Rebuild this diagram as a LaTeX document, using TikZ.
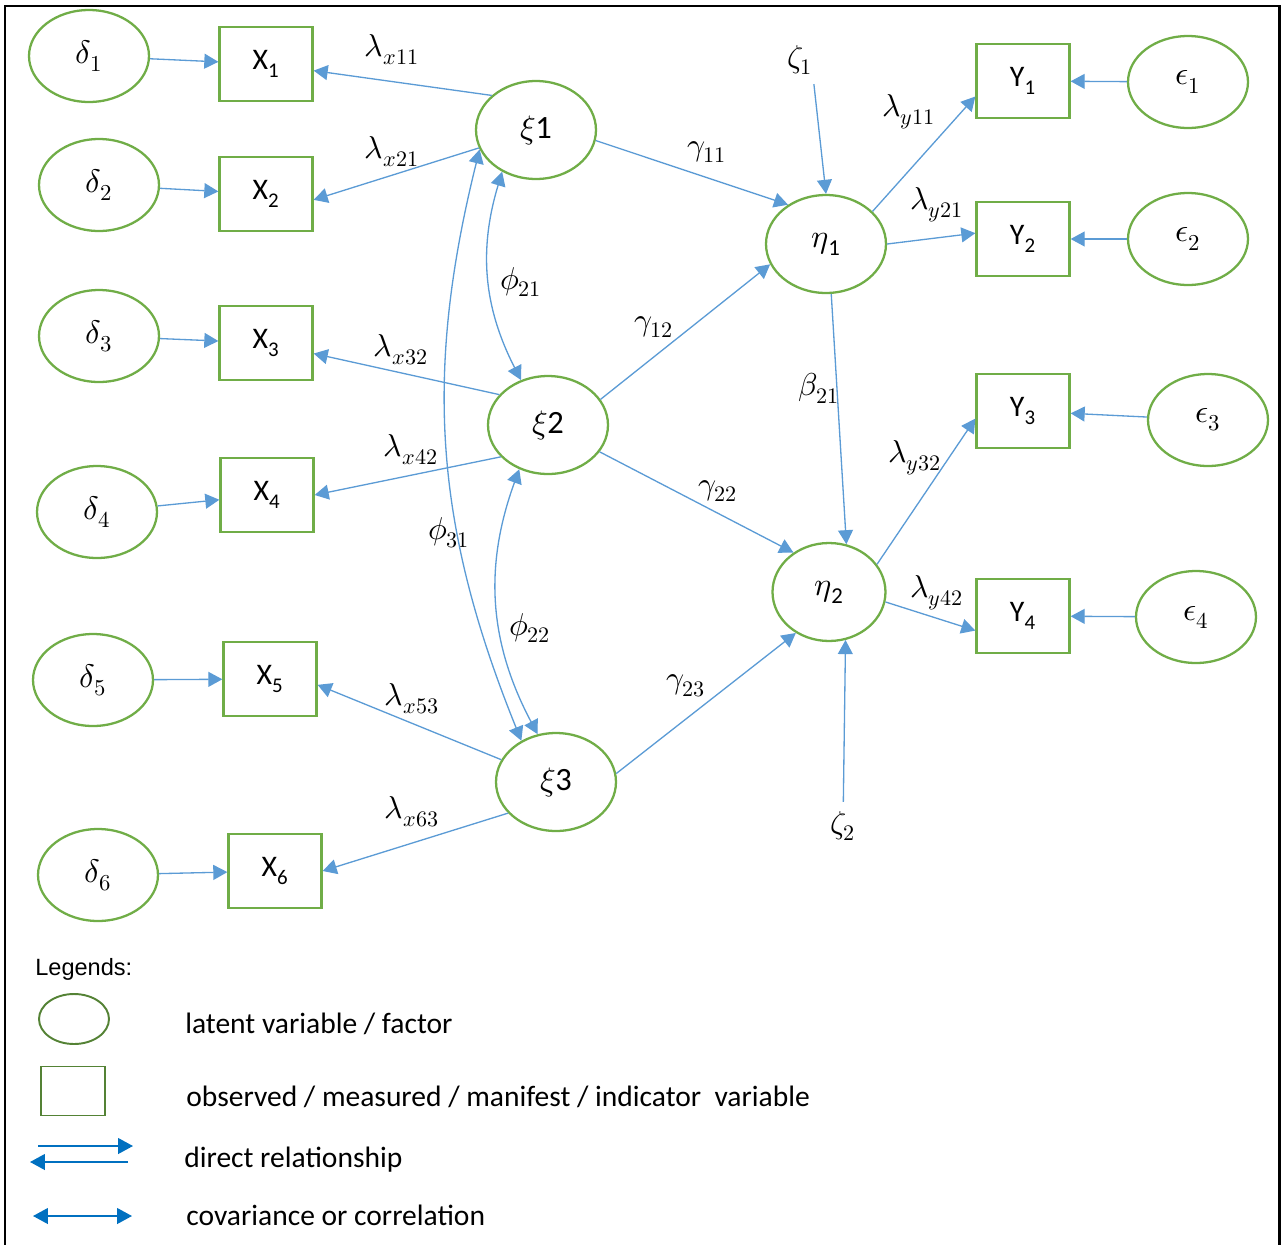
\documentclass[tikz,border=0pt]{standalone}
\usepackage{fontspec}
\usepackage{unicode-math}
\setmainfont{Carlito}
\newfontfamily\legendfont{Liberation Sans}
\usetikzlibrary{shapes.geometric, arrows.meta}
\definecolor{factorgreen}{RGB}{112,173,71}
\definecolor{keygreen}{RGB}{84,130,53}
\definecolor{pathblue}{RGB}{91,155,213}
\definecolor{keyblue}{RGB}{0,112,192}

\begin{document}
\begin{tikzpicture}[
    x=0.02cm, y=-0.02cm,
    error/.style={ellipse, draw=factorgreen, line width=1.3pt, minimum width=2.4cm, minimum height=1.84cm, inner sep=0pt, font=\fontsize{18.5}{22}\selectfont},
    factor/.style={error, minimum height=1.96cm},
    indicator/.style={draw=factorgreen, line width=1.3pt, minimum width=1.86cm, minimum height=1.48cm, inner sep=0pt, font=\fontsize{17}{20}\selectfont},
    arrow/.style={-{Triangle[length=8pt, width=8.5pt]}, draw=pathblue, line width=0.75pt},
    covar/.style={{Triangle[length=8pt, width=8.5pt]}-{Triangle[length=8pt, width=8.5pt]}, draw=pathblue, line width=0.75pt},
    coef/.style={inner sep=0pt, font=\fontsize{18}{21}\selectfont},
    keyarrow/.style={-{Triangle[length=8.5pt, width=9pt]}, draw=keyblue, line width=0.9pt},
    keytext/.style={anchor=west, inner sep=0pt, font=\fontsize{16.8}{20}\selectfont}
]
    \useasboundingbox (0,0) rectangle (1286,1245);
    \draw[line width=1.7pt] (5,1245) -- (5,6) -- (1279,6) -- (1279,1245);

    \node[error] (d1) at (89,56) {$\delta_1$};
    \node[error] (d2) at (99,185) {$\delta_2$};
    \node[error] (d3) at (99,336) {$\delta_3$};
    \node[error] (d4) at (97,512) {$\delta_4$};
    \node[error] (d5) at (93,680) {$\delta_5$};
    \node[error] (d6) at (98,875) {$\delta_6$};

    \node[indicator] (x1) at (266,64) {X\textsubscript{1}};
    \node[indicator] (x2) at (266,194) {X\textsubscript{2}};
    \node[indicator] (x3) at (266,343) {X\textsubscript{3}};
    \node[indicator] (x4) at (267,495) {X\textsubscript{4}};
    \node[indicator] (x5) at (270,679) {X\textsubscript{5}};
    \node[indicator] (x6) at (275,871) {X\textsubscript{6}};

    \node[factor] (xi1) at (536,130) {$\xi$1};
    \node[factor] (xi2) at (548,425) {$\xi$2};
    \node[factor] (xi3) at (556,782) {$\xi$3};
    \node[factor] (eta1) at (826,244) {$\eta$\textsubscript{1}};
    \node[factor, minimum width=2.26cm] (eta2) at (829,592) {$\eta$\textsubscript{2}};

    \node[indicator] (y1) at (1023,81) {Y\textsubscript{1}};
    \node[indicator] (y2) at (1023,239) {Y\textsubscript{2}};
    \node[indicator] (y3) at (1023,411) {Y\textsubscript{3}};
    \node[indicator] (y4) at (1023,616) {Y\textsubscript{4}};

    \node[error] (e1) at (1188,82) {$\epsilon_1$};
    \node[error] (e2) at (1188,239) {$\epsilon_2$};
    \node[error] (e3) at (1208,420) {$\epsilon_3$};
    \node[error] (e4) at (1196,617) {$\epsilon_4$};

    \node[coef, inner sep=5pt] (zeta1) at (800,60) {$\zeta_1$};
    \node[coef, inner sep=5pt] (zeta2) at (843,826) {$\zeta_2$};

    \node[coef] (lx11) at (392,50) {$\lambda_{x11}$};
    \node[coef] (lx21) at (392,152) {$\lambda_{x21}$};
    \node[coef] (lx32) at (401,350) {$\lambda_{x32}$};
    \node[coef] (lx42) at (411,450) {$\lambda_{x42}$};
    \node[coef] (lx53) at (412,699) {$\lambda_{x53}$};
    \node[coef] (lx63) at (412,812) {$\lambda_{x63}$};
    \node[coef] (phi21) at (521,282) {$\phi_{21}$};
    \node[coef] (phi31) at (449,533) {$\phi_{31}$};
    \node[coef] (phi22) at (530,628) {$\phi_{22}$};
    \node[coef] (g11) at (707,152) {$\gamma_{11}$};
    \node[coef] (g12) at (654,327) {$\gamma_{12}$};
    \node[coef] (g22) at (718,491) {$\gamma_{22}$};
    \node[coef] (g23) at (686,686) {$\gamma_{23}$};
    \node[coef] (b21) at (819,388) {$\beta_{21}$};
    \node[coef] (ly11) at (909,112) {$\lambda_{y11}$};
    \node[coef] (ly21) at (937,205) {$\lambda_{y21}$};
    \node[coef] (ly32) at (915,458) {$\lambda_{y32}$};
    \node[coef] (ly42) at (937,593) {$\lambda_{y42}$};

    \draw[arrow] (d1) -- (x1);
    \draw[arrow] (d2) -- (x2);
    \draw[arrow] (d3) -- (x3);
    \draw[arrow] (d4) -- (x4);
    \draw[arrow] (d5) -- (x5);
    \draw[arrow] (d6) -- (x6);

    \draw[arrow] (xi1.142) -- (x1);
    \draw[arrow] (xi1) -- (x2.-7);
    \draw[arrow] (xi2.148) -- (x3);
    \draw[arrow] (xi2.214) -- (x4.east);
    \draw[arrow] (xi3) -- (x5.-7);
    \draw[arrow] (xi3.213) -- (x6.east);

    \draw[covar] (xi1.231) to[bend right=22] (xi2.121);
    \draw[covar] (xi2.237) to[bend right=24] (xi3.111);
    \draw[covar] (xi1.199) to[bend right=18] (xi3.130);

    \draw[arrow] (xi1.-10) -- (eta1.134);
    \draw[arrow] (xi2.26) -- (eta1.200);
    \draw[arrow] (xi2) -- (eta2.132);
    \draw[arrow] (xi3.8) -- (eta2.231);
    \draw[arrow] (eta1.-84) -- (eta2.70);
    \draw[arrow] (zeta1.-60) -- (eta1.north);
    \draw[arrow] (zeta2) -- (eta2.-71);

    \draw[arrow] (eta1.35) -- (y1.198);
    \draw[arrow] (eta1.east) -- (y2.173);
    \draw[arrow] (eta2.30) -- (y3.189);
    \draw[arrow] (eta2.-10) -- (y4.197);

    \draw[arrow] (e1) -- (y1);
    \draw[arrow] (e2) -- (y2);
    \draw[arrow] (e3) -- (y3);
    \draw[arrow] (e4) -- (y4);

    \node[anchor=west, inner sep=0pt, font=\legendfont\fontsize{13.4}{16}\selectfont] (keytitle) at (35,969) {Legends:};
    \node[ellipse, draw=keygreen, line width=1.1pt, minimum width=1.4cm, minimum height=1cm] (keyfactor) at (74,1019) {};
    \node[draw=keygreen, line width=1.1pt, minimum width=1.28cm, minimum height=0.98cm] (keyindicator) at (73,1091) {};
    \coordinate (keyA) at (38,1146);
    \coordinate (keyB) at (133,1146);
    \coordinate (keyC) at (128,1162);
    \coordinate (keyD) at (30,1162);
    \coordinate (keyE) at (33,1216);
    \coordinate (keyF) at (132,1216);
    \draw[keyarrow] (keyA) -- (keyB);
    \draw[keyarrow] (keyC) -- (keyD);
    \draw[keyarrow, {Triangle[length=8.5pt, width=9pt]}-{Triangle[length=8.5pt, width=9pt]}] (keyE) -- (keyF);
    \node[keytext] (keyfactortext) at (185,1024) {latent variable / factor};
    \node[keytext] (keyindicatortext) at (186,1097) {observed / measured / manifest / indicator\ \ variable};
    \node[keytext] (keydirecttext) at (184,1160) {direct relationship};
    \node[keytext] (keycovartext) at (186,1215) {covariance or correlation};
\end{tikzpicture}
\end{document}
